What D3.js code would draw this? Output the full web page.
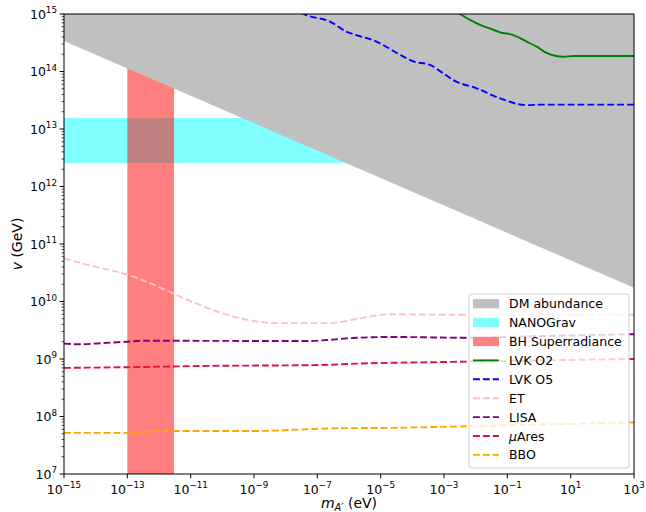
<!DOCTYPE html>
<html><head><meta charset="utf-8">
<script src="https://cdn.jsdelivr.net/npm/d3@7"></script>
<style>body{margin:0;background:#fff}svg{display:block}text{font-family:"DejaVu Sans",sans-serif;fill:#000}</style>
</head><body><svg id="c" width="646" height="512"></svg>
<script>
// ---- data ----
const xDomain = [1e-15, 1e3];
const yDomain = [1e7, 1e15];
const xTickValues = [1e-15,1e-13,1e-11,1e-9,1e-7,1e-5,1e-3,1e-1,1e1,1e3];
const xTickExp = ["−15","−13","−11","−9","−7","−5","−3","−1","1","3"];
const yTickValues = [1e7,1e8,1e9,1e10,1e11,1e12,1e13,1e14,1e15];
const yTickExp = ["7","8","9","10","11","12","13","14","15"];

const dmMass = [1e-15, 1e3];
const dmV = [3.4e14, 1.73e10];
const nanoGravV = [2.57e12, 1.55e13];
const bhMass = [1e-13, 3e-12];

const lvkO2M = [2.8e-3,3.2e-3,6.6e-3,1.38e-2,2.8e-2,5.9e-2,0.155,0.41,0.85,1.74,5.9,12,1e3];
const lvkO2V = [1.05e15,1.0e15,7.9e14,6.5e14,5.6e14,4.8e14,4.3e14,3.3e14,2.7e14,2.1e14,1.8e14,1.86e14,1.86e14];
const lvkO5M = [3e-8,4.6e-8,2.5e-7,8.5e-7,1.7e-6,7.4e-6,1.9e-5,4.1e-5,1.07e-4,3.6e-4,9.5e-4,1.95e-3,1.07e-2,5.9e-2,0.41,1.07,1e3];
const lvkO5V = [1.05e15,9.5e14,7.4e14,4.9e14,4.3e14,3.3e14,2.5e14,1.95e14,1.5e14,1.3e14,9.3e13,7.1e13,5.1e13,3.4e13,2.6e13,2.65e13,2.65e13];
const etM = [1e-15,8.5e-15,9.5e-14,4.1e-13,2.8e-12,1.95e-11,1.38e-10,9.5e-10,5.2e-9,2.0e-7,5.2e-7,2.2e-6,1.95e-5,7.4e-4,1e3];
const etV = [5.6e10,4.1e10,2.95e10,2.2e10,1.38e10,8.7e9,5.9e9,4.6e9,4.2e9,4.2e9,4.4e9,5.1e9,6.0e9,5.9e9,5.9e9];
const lisaM = [1e-15,3.2e-15,1.4e-14,9.5e-14,3.2e-13,1.55e-9,5.9e-8,2.0e-7,1.7e-6,5.9e-6,1.95e-5,5.2e-3,1e0,1e3];
const lisaV = [1.85e9,1.8e9,1.88e9,2.0e9,2.08e9,2.06e9,2.06e9,2.14e9,2.34e9,2.39e9,2.42e9,2.34e9,2.5e9,2.7e9];
const muAresM = [1e-15,1.0e-13,1.95e-11,2.5e-7,5.2e-7,5.2e-3,1e3];
const muAresV = [7.0e8,7.2e8,7.55e8,7.9e8,8.1e8,9.0e8,1.0e9];
const bboM = [1e-15,1.0e-13,1.07e-12,9.5e-10,2.5e-7,6.6e-5,1.23e-3,1e3];
const bboV = [5.2e7,5.2e7,5.6e7,5.6e7,6.2e7,6.4e7,6.65e7,7.9e7];

const legendLabels = ["DM abundance","NANOGrav","BH Superradiance","LVK O2","LVK O5","ET","LISA","μAres","BBO"];

// ---- chart ----
const svg = d3.select("#c");
const L=64, R=634, T=14, B=474;
const LW=1.9, DASH="6.9,3";
const x = d3.scaleLog().domain(xDomain).range([L,R]);
const y = d3.scaleLog().domain(yDomain).range([B,T]);

svg.append("defs").append("clipPath").attr("id","clip")
  .append("rect").attr("x",L).attr("y",T).attr("width",R-L).attr("height",B-T);
const g = svg.append("g").attr("clip-path","url(#clip)");

// NANOGrav band
g.append("rect").attr("x",x(xDomain[0])).attr("width",x(xDomain[1])-x(xDomain[0]))
  .attr("y",y(nanoGravV[1])).attr("height",y(nanoGravV[0])-y(nanoGravV[1]))
  .attr("fill","#00ffff").attr("fill-opacity",0.5);
// BH superradiance
g.append("rect").attr("x",x(bhMass[0])).attr("width",x(bhMass[1])-x(bhMass[0]))
  .attr("y",y(yDomain[1])).attr("height",y(yDomain[0])-y(yDomain[1]))
  .attr("fill","#ff0000").attr("fill-opacity",0.5);
// DM abundance (opaque region above line)
const dmArea = d3.area().x((d,i)=>x(dmMass[i])).y0(()=>y(yDomain[1])).y1((d,i)=>y(dmV[i]));
g.append("path").datum(dmMass).attr("d",dmArea).attr("fill","#c0c0c0");

const lineGen = d3.line().x(d=>x(d[0])).y(d=>y(d[1])).curve(d3.curveMonotoneX);
const series = [
  {m:lvkO2M,v:lvkO2V,c:"#008000",dash:null},
  {m:lvkO5M,v:lvkO5V,c:"#0000ff",dash:DASH},
  {m:etM,v:etV,c:"#ffc0cb",dash:DASH},
  {m:lisaM,v:lisaV,c:"#800080",dash:DASH},
  {m:muAresM,v:muAresV,c:"#dc143c",dash:DASH},
  {m:bboM,v:bboV,c:"#ffa500",dash:DASH}
];
series.forEach(s=>{
  g.append("path").datum(s.m.map((m,i)=>[m,s.v[i]])).attr("d",lineGen)
    .attr("fill","none").attr("stroke",s.c).attr("stroke-width",LW)
    .attr("stroke-dasharray",s.dash);
});

// axes
const ax = svg.append("g");
const yMinor=[];
for(let e=7;e<15;e++) for(let k=2;k<10;k++) yMinor.push(k*Math.pow(10,e));
ax.selectAll(".ym").data(yMinor).enter().append("line")
  .attr("x1",L).attr("x2",L-2.5).attr("y1",d=>y(d)).attr("y2",d=>y(d))
  .attr("stroke","#000").attr("stroke-width",0.7);
ax.selectAll(".yM").data(yTickValues).enter().append("line")
  .attr("x1",L).attr("x2",L-4.4).attr("y1",d=>y(d)).attr("y2",d=>y(d))
  .attr("stroke","#000").attr("stroke-width",1);
ax.selectAll(".xM").data(xTickValues).enter().append("line")
  .attr("y1",B).attr("y2",B+4.4).attr("x1",d=>x(d)).attr("x2",d=>x(d))
  .attr("stroke","#000").attr("stroke-width",1);

function powLabel(sel, exp){
  sel.append("tspan").text("10").attr("font-size",12.5);
  sel.append("tspan").text(exp).attr("font-size",8.75).attr("dy",-5.5);
}
yTickValues.forEach((v,i)=>{
  const t = ax.append("text").attr("x",L-7).attr("y",y(v)+4.5).attr("text-anchor","end");
  powLabel(t, yTickExp[i]);
});
xTickValues.forEach((v,i)=>{
  const t = ax.append("text").attr("x",x(v)).attr("y",B+19.5).attr("text-anchor","middle");
  powLabel(t, xTickExp[i]);
});

// frame
svg.append("rect").attr("x",L).attr("y",T).attr("width",R-L).attr("height",B-T)
  .attr("fill","none").attr("stroke","#000").attr("stroke-width",1);

// axis labels
const xl = svg.append("text").attr("x",(L+R)/2).attr("y",508).attr("text-anchor","middle").attr("font-size",14);
xl.append("tspan").text("m").attr("font-style","italic");
xl.append("tspan").text("A′").attr("font-style","italic").attr("font-size",9.8).attr("dy",3);
xl.append("tspan").text(" (eV)").attr("dy",-3);
const yl = svg.append("text").attr("transform",`translate(22,${(T+B)/2}) rotate(-90)`)
  .attr("text-anchor","middle").attr("font-size",14);
yl.append("tspan").text("v").attr("font-style","italic");
yl.append("tspan").text(" (GeV)");

// legend
const lg = svg.append("g");
lg.append("rect").attr("x",469).attr("y",294).attr("width",160).attr("height",174).attr("rx",3)
  .attr("fill","#fff").attr("fill-opacity",0.8).attr("stroke","#d0d0d0").attr("stroke-width",1);
const legendStyles = [
  {type:"patch",fill:"#c0c0c0"},
  {type:"patch",fill:"#80ffff"},
  {type:"patch",fill:"#ff8080"},
  {type:"line",c:"#008000",dash:null},
  {type:"line",c:"#0000ff",dash:DASH},
  {type:"line",c:"#ffc0cb",dash:DASH},
  {type:"line",c:"#800080",dash:DASH},
  {type:"line",c:"#dc143c",dash:DASH},
  {type:"line",c:"#ffa500",dash:DASH}
];
legendLabels.forEach((lab,i)=>{
  const cy = 303.7 + i*18.9;
  const st = legendStyles[i];
  if(st.type==="patch"){
    lg.append("rect").attr("x",473).attr("y",cy-4.6).attr("width",26).attr("height",9.2).attr("fill",st.fill);
  } else {
    lg.append("line").attr("x1",473).attr("x2",499).attr("y1",cy).attr("y2",cy)
      .attr("stroke",st.c).attr("stroke-width",LW).attr("stroke-dasharray",st.dash);
  }
  const t = lg.append("text").attr("x",509).attr("y",cy+4.5).attr("font-size",12.5);
  if(lab.startsWith("μ")){
    t.append("tspan").text("μ").attr("font-style","italic");
    t.append("tspan").text(lab.slice(1));
  } else t.text(lab);
});
</script></body></html>
